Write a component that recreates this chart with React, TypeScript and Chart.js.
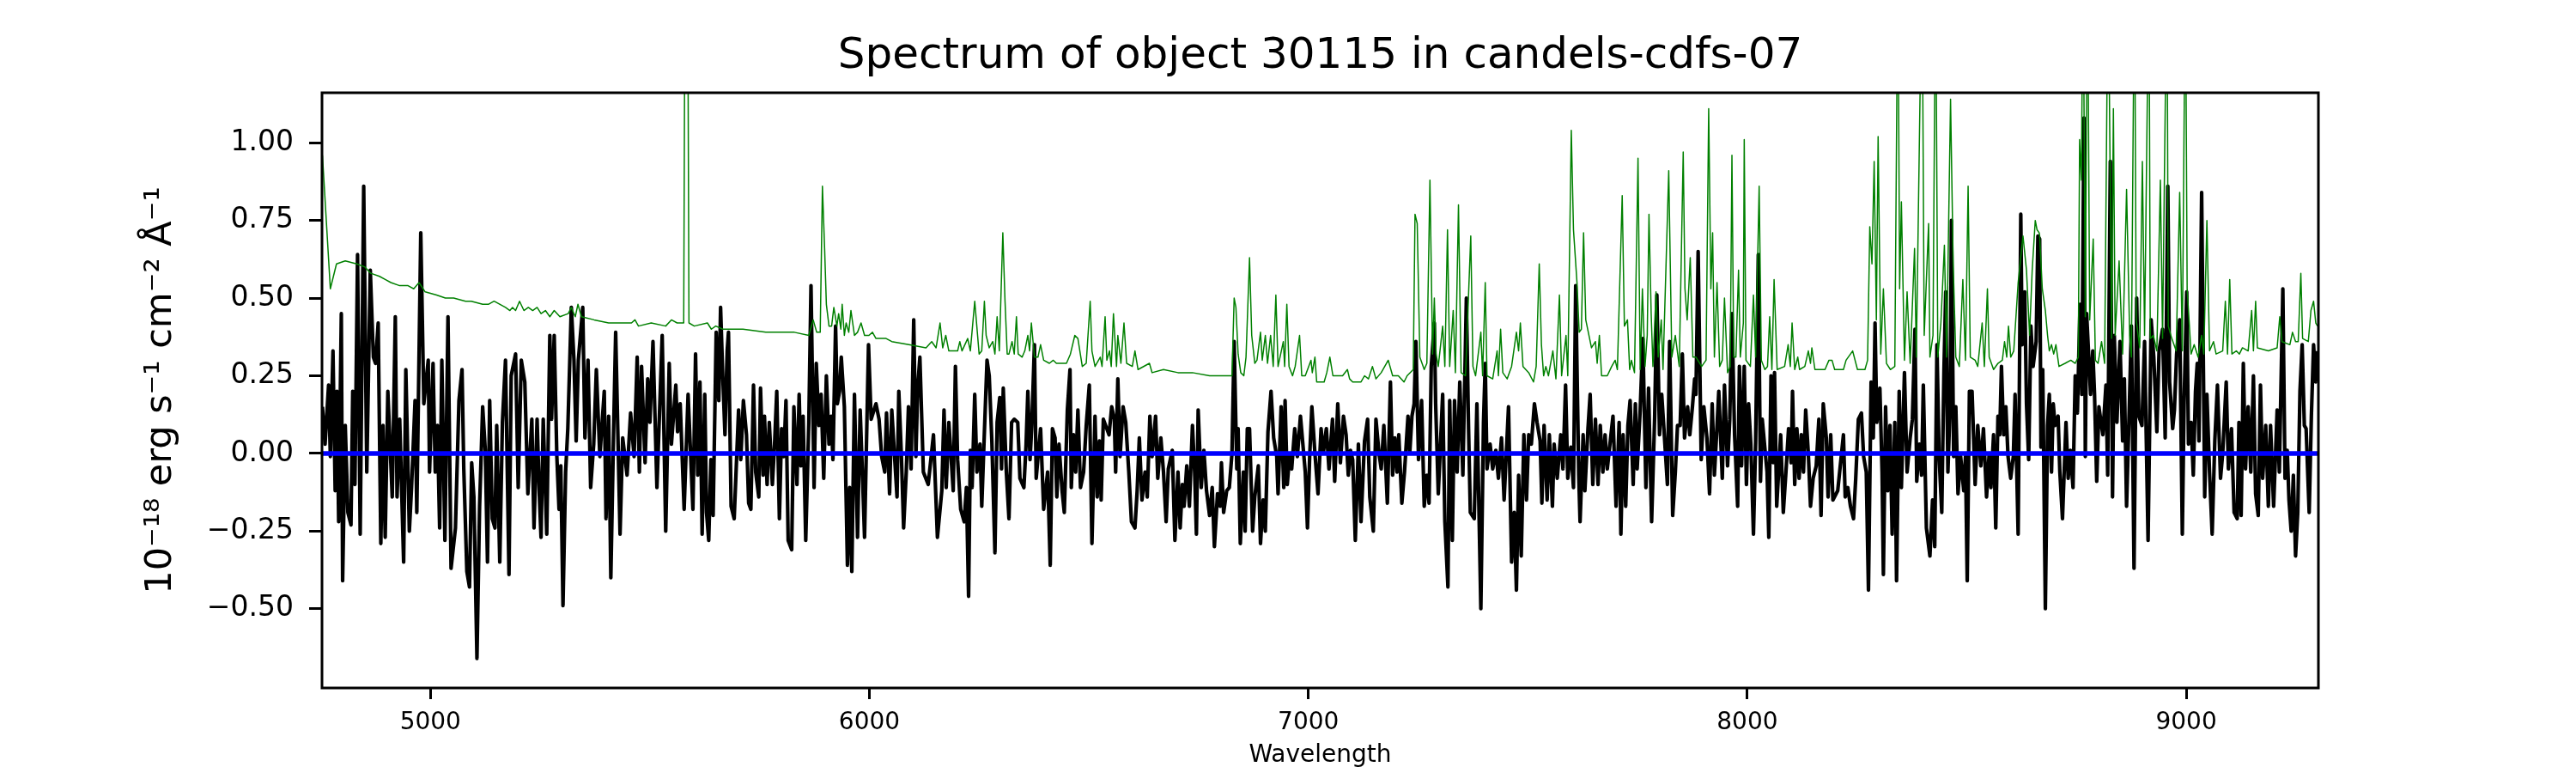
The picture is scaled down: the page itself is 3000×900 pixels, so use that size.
import { useEffect, useRef } from "react"
import { Chart, registerables } from "chart.js"

Chart.register(...registerables)

Chart.defaults.font.family = "'DejaVu Sans'"
Chart.defaults.color = "#000000"

const titleText = "Spectrum of object 30115 in candels-cdfs-07"
const xLabel = "Wavelength"
const yLabel = "10⁻¹⁸ erg s⁻¹ cm⁻² Å⁻¹"

const xTicks = [5000, 6000, 7000, 8000, 9000]
const yTicks = [-0.5, -0.25, 0, 0.25, 0.5, 0.75, 1.0]
const xMin = 4753
const xMax = 9301
const yMin = -0.755
const yMax = 1.161

// spectrum (black)
const fluxWave = [
  4754, 4760, 4768, 4772, 4778, 4783, 4787, 4791, 4797, 4800,
  4806, 4812, 4819, 4823, 4828, 4834, 4840, 4848, 4855, 4863,
  4870, 4875, 4881, 4887, 4892, 4897, 4903, 4913, 4920, 4924,
  4930, 4939, 4944, 4952, 4957, 4965, 4969, 4978, 4985, 4995,
  4998, 5006, 5011, 5016, 5021, 5026, 5033, 5040, 5047, 5057,
  5065, 5072, 5076, 5083, 5089, 5094, 5099, 5106, 5112, 5119,
  5125, 5130, 5135, 5141, 5147, 5151, 5158, 5164, 5171, 5179,
  5184, 5194, 5200, 5207, 5215, 5222, 5231, 5236, 5243, 5248,
  5252, 5257, 5265, 5272, 5276, 5282, 5288, 5293, 5297, 5302,
  5308, 5313, 5321, 5327, 5332, 5337, 5347, 5352, 5359, 5365,
  5372, 5378, 5386, 5396, 5400, 5406, 5411, 5417, 5422, 5432,
  5438, 5448, 5456, 5464, 5471, 5476, 5481, 5489, 5495, 5500,
  5507, 5516, 5528,
  5536, 5544, 5549, 5559, 5563, 5569, 5578, 5587, 5598, 5604,
  5609, 5614, 5619, 5625, 5629, 5634, 5639, 5644, 5651, 5657,
  5661, 5666, 5671, 5676, 5679, 5685, 5692, 5696, 5702, 5707,
  5713, 5720, 5725, 5730, 5736, 5741, 5748, 5752, 5758, 5761,
  5767, 5772, 5779, 5784, 5789, 5795, 5800, 5805, 5810, 5815,
  5823, 5828, 5835, 5840, 5844, 5849, 5855, 5862, 5867, 5874,
  5879, 5885, 5890, 5896, 5902, 5908, 5913, 5917, 5923, 5927,
  5932, 5936, 5943, 5950, 5955, 5960, 5966, 5973, 5979, 5984,
  5989, 5998, 6004, 6015, 6022, 6028, 6035, 6039, 6046, 6051,
  6063, 6067, 6073, 6078, 6084, 6089, 6095, 6101, 6106, 6110,
  6115, 6123, 6134, 6146, 6155, 6165, 6170, 6175, 6181, 6191,
  6196, 6201, 6208, 6216, 6221, 6226, 6230, 6234, 6240, 6245,
  6252, 6256, 6261, 6268, 6273, 6279, 6286, 6291, 6297, 6301,
  6305, 6312,
  6318, 6324, 6330, 6338, 6343, 6352, 6357, 6361, 6366, 6370,
  6376, 6380, 6390, 6397, 6406, 6412, 6417, 6423, 6427, 6432,
  6439, 6444, 6451, 6457, 6460, 6465, 6470, 6475, 6481, 6488,
  6494, 6501, 6507, 6514, 6519, 6524, 6528, 6533, 6546, 6552,
  6558, 6561, 6566, 6571, 6578, 6584, 6591, 6597, 6605, 6610,
  6615, 6621, 6628, 6633, 6639, 6644, 6652, 6657, 6664, 6670,
  6676, 6681, 6690, 6696, 6703, 6708, 6713, 6717, 6723, 6729,
  6736, 6741, 6745, 6749, 6756, 6762, 6768, 6775, 6781, 6786,
  6793, 6799, 6802, 6807, 6814, 6820, 6826, 6831, 6837, 6840,
  6845, 6852, 6856, 6861, 6866, 6873, 6878, 6886, 6891, 6897,
  6902, 6908, 6915, 6921, 6928, 6931, 6938, 6944, 6947, 6952,
  6957, 6962, 6969, 6975, 6982, 6993, 6998, 7003, 7008, 7015,
  7022, 7029, 7034, 7041, 7047, 7055, 7060, 7067, 7073, 7080,
  7086, 7091, 7096,
  7101, 7107, 7114, 7120, 7128, 7135, 7140, 7148, 7154, 7161,
  7166, 7172, 7180, 7187, 7192, 7197, 7202, 7206, 7213, 7219,
  7227, 7231, 7236, 7241, 7245, 7251, 7258, 7264, 7270, 7275,
  7280, 7287, 7290, 7296, 7306, 7311, 7318, 7322, 7328, 7333,
  7339, 7345, 7352, 7360, 7365, 7369, 7378, 7384, 7393, 7399,
  7403, 7407, 7414, 7420, 7427, 7433, 7440, 7446, 7456, 7463,
  7469, 7474, 7479, 7485, 7491, 7497, 7502, 7508, 7515, 7521,
  7528, 7532, 7537, 7544, 7549, 7556, 7560, 7567, 7575, 7580,
  7586, 7591, 7598, 7604, 7609, 7616, 7619, 7626, 7630, 7637,
  7642, 7648, 7654, 7660, 7665, 7671, 7676, 7681, 7694, 7701,
  7708, 7712, 7717, 7723, 7728, 7733, 7740, 7745, 7749, 7756,
  7762, 7769, 7775, 7782, 7789, 7794, 7800, 7805, 7810, 7818,
  7823, 7830, 7836, 7841, 7847, 7852, 7857, 7864, 7869, 7875,
  7880,
  7883, 7888, 7895, 7901, 7908, 7914, 7920, 7925, 7930, 7935,
  7943, 7948, 7955, 7960, 7965, 7971, 7978, 7982, 7987, 7993,
  7998, 8003, 8008, 8014, 8019, 8025, 8030, 8034, 8045, 8049,
  8054, 8059, 8062, 8067, 8076, 8082, 8088, 8094, 8100, 8103,
  8108, 8113, 8118, 8123, 8128, 8133, 8139, 8144, 8150, 8157,
  8163, 8168, 8173, 8180, 8184, 8190, 8195, 8206, 8219, 8223,
  8229, 8235, 8242, 8247, 8253, 8260, 8265, 8271, 8276, 8282,
  8287, 8291, 8295, 8302, 8307, 8310, 8315, 8320, 8325, 8330,
  8336, 8340, 8346, 8351, 8358, 8364, 8371, 8376, 8382, 8386,
  8392, 8397, 8401, 8408, 8416, 8422, 8427, 8432, 8437, 8443,
  8448, 8452, 8457, 8462, 8465, 8470, 8475, 8480, 8486, 8493,
  8497, 8501, 8506, 8512, 8519, 8525, 8532, 8538, 8545, 8551,
  8555, 8561, 8566, 8571, 8575, 8579, 8584, 8589, 8594, 8600,
  8606, 8610, 8617, 8623, 8626, 8632, 8636, 8641, 8646, 8651,
  8658, 8662,
  8666, 8669, 8673, 8679, 8684, 8688, 8693, 8697, 8701, 8708,
  8712, 8718, 8726, 8731, 8736, 8742, 8747, 8752, 8758, 8762,
  8767, 8770, 8773, 8782, 8787, 8791, 8796, 8801, 8810, 8817,
  8821, 8827, 8832, 8836, 8842, 8849, 8855, 8859, 8864, 8871,
  8875, 8881, 8887, 8892, 8899, 8905, 8913, 8920, 8926, 8933,
  8938, 8946, 8952, 8958, 8962, 8969, 8973, 8978, 8985, 8991,
  8995, 9001, 9005, 9011, 9016, 9021, 9025, 9029, 9035, 9042,
  9047, 9053, 9059, 9065, 9071, 9078, 9083, 9091, 9096, 9103,
  9109, 9116, 9120, 9125, 9130, 9135, 9141, 9147, 9153, 9158,
  9164, 9169, 9174, 9181, 9187, 9192, 9199, 9207, 9212, 9220,
  9225, 9230, 9234, 9239, 9244, 9249, 9254, 9259, 9264, 9269,
  9273, 9280, 9285, 9290, 9295, 9298,
]

const flux = [
  0.15, 0.03, 0.22, -0.01, 0.33, -0.12, 0.2, -0.22, 0.45, -0.41,
  0.09, -0.19, -0.23, 0.2, -0.1, 0.64, -0.26, 0.86, -0.06, 0.59,
  0.31, 0.29, 0.42, -0.29, 0.09, -0.27, 0.2, -0.14, 0.44, -0.14,
  0.11, -0.35, 0.27, -0.25, -0.11, 0.17, -0.19, 0.71, 0.16, 0.3,
  -0.06, 0.29, -0.06, 0.09, -0.24, 0.3, -0.28, 0.44, -0.37, -0.24,
  0.17, 0.27, -0.05, -0.38, -0.43, -0.03, -0.14, -0.66, -0.17, 0.15,
  0.01, -0.35, 0.17, -0.21, -0.24, 0.09, -0.35, 0.1, 0.3, -0.39,
  0.25, 0.32, -0.11, 0.3, 0.23, -0.13, 0.11, -0.24, 0.11, -0.13,
  -0.27, 0.11, -0.26, 0.38, 0.11, 0.38, -0.01, -0.18, -0.04, -0.49,
  -0.06, 0.08, 0.47, 0.3, 0.04, 0.3, 0.47, 0.05, 0.3, -0.11,
  0.03, 0.27, -0.01, 0.2, -0.21, 0.12, -0.4, 0.05, 0.39, -0.26,
  0.05, -0.07, 0.13, -0.01, 0.31, -0.06, 0.28, -0.03, 0.24, 0.1,
  0.36, -0.11, 0.38,
  -0.25, 0.29, 0.03, 0.22, 0.07, 0.16, -0.18, 0.19, -0.18, 0.32,
  -0.07, 0.23, -0.26, 0.19, -0.19, -0.28, -0.02, -0.2, 0.39, 0.17,
  0.47, 0.25, 0.06, 0.33, 0.39, -0.17, -0.21, -0.07, 0.14, -0.02,
  0.17, 0.06, -0.16, -0.18, 0.22, -0.06, -0.14, 0.21, -0.07, 0.12,
  -0.1, 0.1, -0.1, 0.03, 0.2, -0.21, 0.08, -0.01, 0.17, -0.28,
  -0.31, 0.15, -0.1, 0.19, -0.04, 0.12, -0.28, 0.1, 0.54, -0.11,
  0.29, 0.09, 0.19, -0.08, 0.25, 0.03, 0.12, -0.02, 0.41, 0.16,
  0.2, 0.31, 0.15, -0.36, -0.11, -0.38, 0.19, -0.27, 0.14, -0.06,
  -0.27, 0.35, 0.11, 0.16, 0.11, -0.01, -0.06, 0.13, -0.13, 0.14,
  -0.14, 0.2, -0.01, -0.24, -0.06, 0.15, -0.05, 0.43, -0.01, 0.21,
  0.31, -0.06, -0.1, 0.06, -0.27, -0.12, 0.14, -0.11, 0.1, -0.12,
  0.28, -0.02, -0.18, -0.22, -0.11, -0.46, 0.01, -0.11, 0.19, -0.06,
  0.03, -0.17, 0.03, 0.3, 0.25, 0.04, -0.32, 0.1, 0.18, -0.05,
  0.21, -0.06,
  -0.21, 0.1, 0.11, 0.1, -0.08, -0.11, 0.03, 0.2, -0.02, 0.09,
  0.35, -0.08, 0.08, -0.18, -0.06, -0.36, 0.08, 0.05, -0.14, 0.03,
  -0.12, -0.19, 0.14, 0.27, -0.11, 0.06, -0.06, 0.14, -0.11, -0.06,
  0.09, 0.22, -0.29, 0.12, -0.14, 0.04, -0.15, 0.11, 0.06, 0.15,
  0.11, -0.06, 0.24, -0.01, 0.15, 0.1, -0.06, -0.22, -0.24, -0.12,
  0.05, -0.15, -0.06, -0.14, 0.12, -0.01, 0.12, -0.08, 0.05, -0.06,
  -0.22, -0.05, 0.01, -0.28, -0.06, -0.24, -0.1, -0.17, -0.04, -0.17,
  0.09, -0.06, -0.26, 0.14, -0.11, 0.01, -0.12, -0.2, -0.11, -0.3,
  -0.13, -0.17, -0.03, -0.19, -0.12, -0.11, 0.0, 0.36, -0.05, 0.08,
  -0.29, -0.06, -0.25, 0.08, 0.08, -0.25, -0.14, -0.04, -0.29, -0.15,
  -0.25, 0.07, 0.2, 0.05, -0.01, -0.13, 0.15, -0.11, 0.17, -0.1,
  -0.01, -0.05, 0.08, -0.01, 0.12, -0.06, -0.24, -0.01, 0.15, 0.0,
  -0.13, 0.08, 0.0, 0.08, -0.05, 0.11, -0.09, 0.16, -0.03, 0.12,
  0.06, -0.07, 0.01,
  -0.02, -0.28, 0.03, -0.22, 0.04, 0.11, -0.14, -0.25, 0.11, 0.0,
  -0.05, 0.09, -0.16, 0.23, -0.07, 0.05, -0.06, 0.06, -0.16, -0.06,
  0.12, 0.0, 0.12, 0.16, 0.36, -0.02, 0.17, -0.17, -0.07, -0.16,
  0.28, 0.42, 0.16, -0.13, 0.19, -0.22, -0.43, 0.17, -0.28, 0.17,
  -0.06, 0.23, -0.07, 0.5, 0.08, -0.19, -0.21, 0.16, -0.5, 0.1,
  0.29, -0.05, 0.03, -0.05, 0.01, -0.08, 0.05, -0.15, 0.15, -0.35,
  -0.19, -0.44, -0.07, -0.33, 0.06, -0.15, 0.06, 0.03, 0.16, 0.1,
  0.04, -0.16, 0.09, -0.15, 0.06, -0.17, 0.03, -0.08, 0.06, -0.05,
  0.22, -0.08, 0.02, -0.11, 0.54, -0.07, -0.22, 0.06, -0.12, 0.08,
  0.19, -0.1, 0.11, -0.1, 0.09, -0.06, 0.06, -0.05, 0.12, -0.17,
  0.1, -0.26, 0.06, -0.17, 0.09, 0.17, -0.1, 0.16, -0.05, 0.14,
  0.37, -0.11, 0.21, -0.22, 0.12, 0.51, 0.06, 0.19, 0.08, -0.1,
  0.36, -0.2, -0.06, 0.09, 0.09, 0.32, 0.05, 0.15, 0.06, 0.15,
  0.24,
  0.19, 0.65, -0.02, 0.15, 0.05, -0.13, 0.16, -0.07, 0.06, 0.2,
  -0.08, 0.22, -0.04, 0.11, 0.45, 0.06, -0.17, 0.28, -0.04, 0.28,
  -0.1, 0.16, 0.03, -0.26, 0.04, 0.64, -0.09, 0.11, -0.06, -0.27,
  0.25, -0.03, 0.26, -0.17, 0.06, -0.19, -0.06, 0.08, -0.03, 0.2,
  -0.1, 0.08, -0.08, 0.06, -0.06, 0.14, 0.0, -0.17, -0.08, -0.04,
  0.11, -0.2, 0.16, 0.05, -0.14, 0.06, -0.15, -0.12, 0.06, -0.14,
  -0.11, -0.17, -0.21, -0.08, 0.11, 0.13, -0.01, -0.06, -0.44, 0.23,
  0.05, 0.42, 0.1, 0.21, -0.06, -0.39, 0.15, -0.12, 0.09, -0.26,
  0.1, -0.41, 0.2, -0.11, 0.26, -0.06, 0.05, 0.11, 0.4, -0.09,
  0.03, -0.07, 0.22, -0.24, -0.33, -0.15, -0.3, 0.35, -0.01, -0.19,
  0.27, 0.52, -0.06, 0.16, 0.75, -0.01, 0.15, -0.13, -0.01, -0.12,
  -0.01, -0.41, 0.2, 0.2, -0.1, 0.09, -0.04, 0.08, -0.14, 0.0,
  -0.11, 0.06, -0.24, 0.12, 0.06, 0.28, 0.06, 0.15, -0.01, -0.08,
  -0.01, 0.19, -0.26, 0.77, 0.35, 0.52, 0.16, -0.02, 0.41, 0.28,
  0.36, 0.7,
  0.69, 0.02, 0.27, -0.5, 0.09, 0.19, -0.06, 0.16, 0.09, 0.12,
  -0.06, -0.21, 0.1, -0.08, 0.01, -0.11, 0.25, 0.13, 0.48, 0.19,
  1.08, -0.01, 0.45, 0.19, 0.33, 0.19, -0.09, 0.15, 0.06, 0.22,
  -0.07, 0.94, -0.14, 0.38, 0.1, 0.36, 0.04, 0.24, -0.17, 0.19,
  0.41, -0.37, 0.5, 0.12, 0.09, 0.36, -0.28, 0.43, 0.31, 0.07,
  0.33, 0.4, 0.05, 0.86, 0.23, 0.08, 0.14, 0.32, 0.43, -0.26,
  0.16, 0.52, 0.03, 0.1, -0.07, 0.2, 0.29, 0.04, 0.84, -0.14,
  0.19, -0.06, -0.26, 0.04, 0.22, -0.08, 0.0, 0.23, -0.05, 0.08,
  -0.19, -0.21, 0.1, -0.2, 0.29, -0.05, 0.15, -0.06, 0.25, -0.13,
  -0.2, 0.22, -0.08, 0.09, -0.17, 0.09, -0.17, 0.14, -0.06, 0.53,
  -0.08, 0.01, -0.15, -0.25, -0.07, -0.33, -0.19, 0.2, 0.35, 0.09,
  0.08, -0.19, 0.12, 0.35, 0.23, 0.33,
]

// noise / sky spectrum (green)
const noiseWave = [
  4754, 4772, 4786, 4806, 4832, 4851, 4864, 4884, 4897, 4910,
  4930, 4949, 4962, 4974, 4988, 5014, 5034, 5053, 5080, 5093,
  5119, 5132, 5145, 5171, 5181, 5187, 5194, 5203, 5213, 5223,
  5233, 5243, 5252, 5262, 5272, 5282, 5295, 5314, 5321, 5330,
  5336, 5344, 5373, 5406, 5432, 5443, 5458, 5466, 5474, 5503,
  5536,
  5549, 5562, 5572, 5577, 5580, 5586, 5589, 5601, 5631, 5640,
  5650, 5666, 5712, 5764, 5829, 5862, 5872, 5880, 5888, 5893,
  5898, 5902, 5908, 5914, 5919, 5926, 5930, 5935, 5938, 5943,
  5947, 5953, 5958, 5966, 5973, 5981, 5989, 5999, 6007, 6015,
  6038, 6051, 6090, 6129, 6142, 6152, 6161, 6167, 6174, 6181,
  6201, 6206, 6211, 6224, 6230, 6240, 6250, 6256, 6262, 6266,
  6273, 6281, 6286, 6291, 6296, 6304, 6309, 6314,
  6318, 6325, 6330, 6335, 6339, 6348, 6354, 6361, 6365, 6369,
  6376, 6384, 6390, 6397, 6410, 6419, 6426, 6449, 6458, 6468,
  6475, 6485, 6494, 6503, 6507, 6514, 6526, 6530, 6537, 6541,
  6547, 6551, 6556, 6563, 6566, 6573, 6580, 6586, 6599, 6605,
  6612, 6638, 6644, 6670, 6703, 6736, 6775, 6826, 6831, 6835,
  6840, 6846, 6853, 6858, 6866, 6871, 6878, 6883, 6891, 6895,
  6902, 6907, 6914, 6920, 6926, 6931, 6943, 6946, 6951, 6956,
  6964, 6970, 6980, 6985, 6993, 7006, 7009, 7015, 7019, 7036,
  7042, 7049, 7056, 7078, 7089, 7094, 7101,
  7120, 7128, 7137, 7146, 7154, 7166, 7182, 7192, 7205, 7218,
  7225, 7239, 7243, 7248, 7254, 7264, 7270, 7277, 7283, 7287,
  7291, 7296, 7306, 7311, 7317, 7322, 7330, 7335, 7342, 7348,
  7358, 7370, 7375, 7381, 7393, 7397, 7403, 7407, 7420, 7430,
  7433, 7438, 7443, 7453, 7463, 7474, 7479, 7483, 7489, 7502,
  7513, 7519, 7526, 7531, 7536, 7541, 7547, 7557, 7564, 7572,
  7577, 7587, 7591, 7599, 7604, 7612, 7617, 7622, 7627, 7632,
  7645, 7654, 7658, 7663, 7668, 7681, 7691, 7699, 7704, 7715,
  7720, 7727, 7732, 7736, 7743, 7751, 7756, 7761, 7767, 7772,
  7776, 7781, 7785, 7792, 7797, 7804, 7808, 7821, 7828, 7836,
  7845, 7854, 7858, 7863, 7870, 7876,
  7883, 7896, 7906, 7912, 7917, 7921, 7925, 7931, 7937, 7943,
  7948, 7955, 7961, 7965, 7969, 7974, 7980, 7984, 7991, 7993,
  7997, 8007, 8014, 8019, 8027, 8032, 8040, 8046, 8051, 8056,
  8061, 8068, 8085, 8093, 8098, 8102, 8108, 8115, 8119, 8131,
  8139, 8144, 8147, 8154, 8167, 8177, 8186, 8193, 8199, 8219,
  8225, 8240, 8251, 8268, 8274, 8279, 8284, 8289, 8294, 8298,
  8304, 8310, 8317, 8326, 8336, 8343, 8347, 8351, 8358, 8364,
  8371, 8381, 8385, 8398, 8403, 8413, 8416, 8423, 8429, 8434,
  8441, 8449, 8454, 8463, 8469, 8475, 8483, 8491, 8497, 8503,
  8508, 8519, 8525, 8535, 8540, 8547, 8551, 8561, 8571, 8581,
  8586, 8591, 8595, 8600, 8607, 8617, 8628, 8636, 8643, 8649,
  8656, 8660, 8665,
  8666, 8672, 8679, 8684, 8688, 8693, 8698, 8703, 8710, 8724,
  8737, 8747, 8754, 8757, 8761, 8765, 8770, 8775, 8780, 8788,
  8793, 8799, 8807, 8814, 8822, 8830, 8834, 8838, 8847, 8855,
  8864, 8871, 8875, 8882, 8886, 8894, 8900, 8905, 8915, 8918,
  8925, 8933, 8941, 8946, 8956, 8959, 8967, 8977, 8985, 8991,
  8998, 9002, 9011, 9018, 9027, 9035, 9040, 9047, 9053, 9062,
  9068, 9083, 9089, 9094, 9099, 9104, 9114, 9121, 9128, 9141,
  9149, 9153, 9158, 9162, 9187, 9207, 9213, 9218, 9236, 9242,
  9249, 9255, 9261, 9265, 9278, 9284, 9290, 9295, 9299,
]

const noise = [
  0.96, 0.53, 0.61, 0.62, 0.61, 0.6, 0.58, 0.57, 0.56, 0.55,
  0.54, 0.54, 0.53, 0.55, 0.52, 0.51, 0.5, 0.5, 0.49, 0.49,
  0.48, 0.48, 0.49, 0.47, 0.46, 0.47, 0.46, 0.49, 0.46, 0.47,
  0.46, 0.47, 0.45, 0.46, 0.44, 0.46, 0.44, 0.45, 0.47, 0.44,
  0.48, 0.44, 0.43, 0.42, 0.42, 0.42, 0.42, 0.43, 0.41, 0.42,
  0.41,
  0.43, 0.42, 0.42, 0.42, 1.6, 1.6, 0.42, 0.41, 0.42, 0.4,
  0.41, 0.4, 0.4, 0.39, 0.39, 0.38, 0.43, 0.39, 0.39, 0.86,
  0.66, 0.48, 0.41, 0.41, 0.47, 0.41, 0.45, 0.4, 0.48, 0.38,
  0.42, 0.39, 0.46, 0.38, 0.39, 0.42, 0.38, 0.38, 0.39, 0.37,
  0.37, 0.36, 0.35, 0.34, 0.36, 0.34, 0.42, 0.34, 0.38, 0.33,
  0.33, 0.36, 0.33, 0.37, 0.33, 0.49, 0.32, 0.33, 0.49, 0.38,
  0.34, 0.36, 0.32, 0.44, 0.33, 0.71, 0.49, 0.32,
  0.32, 0.36, 0.32, 0.44, 0.32, 0.31, 0.33, 0.38, 0.33, 0.42,
  0.31, 0.31, 0.35, 0.3, 0.29, 0.3, 0.29, 0.29, 0.32, 0.38,
  0.37, 0.28, 0.29, 0.49, 0.33, 0.28, 0.31, 0.28, 0.44, 0.3,
  0.33, 0.28, 0.45, 0.28, 0.38, 0.29, 0.42, 0.29, 0.28, 0.33,
  0.27, 0.29, 0.26, 0.27, 0.26, 0.26, 0.25, 0.25, 0.5, 0.47,
  0.32, 0.26, 0.25, 0.31, 0.63, 0.38, 0.29, 0.3, 0.39, 0.3,
  0.38, 0.29, 0.38, 0.28, 0.51, 0.28, 0.36, 0.28, 0.48, 0.28,
  0.25, 0.28, 0.38, 0.25, 0.25, 0.3, 0.26, 0.31, 0.23, 0.23,
  0.26, 0.31, 0.25, 0.25, 0.27, 0.24, 0.23,
  0.23, 0.25, 0.24, 0.28, 0.24, 0.26, 0.3, 0.25, 0.25, 0.23,
  0.25, 0.27, 0.77, 0.74, 0.31, 0.27, 0.29, 0.88, 0.32, 0.5,
  0.32, 0.28, 0.41, 0.28, 0.72, 0.28, 0.46, 0.26, 0.8, 0.26,
  0.25, 0.7, 0.28, 0.25, 0.39, 0.25, 0.55, 0.25, 0.24, 0.33,
  0.25, 0.4, 0.26, 0.24, 0.28, 0.39, 0.33, 0.42, 0.28, 0.26,
  0.23, 0.28, 0.61, 0.35, 0.25, 0.28, 0.25, 0.33, 0.24, 0.51,
  0.25, 0.38, 0.25, 1.04, 0.72, 0.55, 0.39, 0.4, 0.71, 0.43,
  0.34, 0.36, 0.29, 0.38, 0.25, 0.25, 0.28, 0.3, 0.27, 0.83,
  0.41, 0.43, 0.27, 0.3, 0.26, 0.95, 0.27, 0.53, 0.28, 0.38,
  0.77, 0.45, 0.28, 0.52, 0.31, 0.43, 0.27, 0.91, 0.31, 0.38,
  0.28, 0.97, 0.53, 0.43, 0.63, 0.31,
  0.31, 0.28, 0.3, 1.11, 0.53, 0.71, 0.31, 0.55, 0.28, 0.3,
  0.5, 0.26, 0.28, 0.96, 0.31, 0.31, 0.59, 0.31, 0.42, 1.01,
  0.3, 0.28, 0.51, 0.31, 0.86, 0.3, 0.27, 0.28, 0.44, 0.27,
  0.56, 0.27, 0.28, 0.35, 0.28, 0.42, 0.27, 0.31, 0.27, 0.28,
  0.33, 0.29, 0.34, 0.27, 0.27, 0.27, 0.3, 0.3, 0.27, 0.27,
  0.3, 0.33, 0.27, 0.27, 0.3, 0.73, 0.61, 0.94, 0.43, 1.02,
  0.32, 0.53, 0.29, 0.27, 0.28, 1.6, 0.53, 0.81, 0.3, 0.52,
  0.29, 0.66, 0.31, 1.6, 0.38, 0.74, 0.31, 0.38, 1.6, 0.31,
  0.42, 0.67, 0.31, 1.14, 0.61, 0.31, 0.28, 0.56, 0.3, 0.86,
  0.31, 0.3, 0.28, 0.42, 0.28, 0.53, 0.31, 0.27, 0.29, 0.3,
  0.36, 0.31, 0.41, 0.31, 0.33, 0.55, 0.7, 0.59, 0.38, 0.59,
  0.75, 0.72, 0.71,
  0.7, 0.53, 0.46, 0.38, 0.33, 0.35, 0.32, 0.35, 0.28, 0.29,
  0.3, 0.29, 0.31, 1.01, 0.88, 1.6, 0.44, 1.6, 0.43, 0.69,
  0.3, 0.29, 0.36, 0.29, 1.6, 0.37, 1.11, 0.38, 0.62, 0.32,
  0.85, 0.38, 0.31, 1.6, 0.43, 0.34, 0.94, 0.38, 1.6, 0.37,
  0.38, 0.33, 0.88, 0.37, 1.6, 0.41, 0.37, 0.33, 0.84, 0.33,
  1.6, 0.53, 0.32, 0.35, 0.31, 0.38, 0.32, 0.75, 0.33, 0.36,
  0.32, 0.33, 0.49, 0.32, 0.56, 0.32, 0.33, 0.32, 0.34, 0.33,
  0.46, 0.33, 0.49, 0.34, 0.33, 0.34, 0.44, 0.36, 0.35, 0.39,
  0.36, 0.36, 0.58, 0.37, 0.36, 0.46, 0.49, 0.42, 0.41,
]

// zero level (blue)
const zeroWave = [4753, 9301]
const zeroFlux = [0, 0]

const toPoints = (xs: number[], ys: number[]) => {
  const n = Math.min(xs.length, ys.length)
  return xs.slice(0, n).map((x, i) => ({ x, y: ys[i] }))
}

const formatY = (v: number) => (v < 0 ? "\u2212" + Math.abs(v).toFixed(2) : v.toFixed(2))

// matplotlib-style box around the axes
const framePlugin = {
  id: "frame",
  afterDatasetsDraw(chart: Chart) {
    const { ctx, chartArea } = chart
    ctx.save()
    ctx.strokeStyle = "#000000"
    ctx.lineWidth = 3
    ctx.strokeRect(chartArea.left, chartArea.top, chartArea.right - chartArea.left, chartArea.bottom - chartArea.top)
    ctx.restore()
  },
}

export default function App() {
  const chartRef = useRef<HTMLCanvasElement>(null)
  const chartInstance = useRef<Chart | null>(null)

  useEffect(() => {
    document.body.style.margin = "0"
    if (!chartRef.current) return
    if (chartInstance.current) chartInstance.current.destroy()

    chartInstance.current = new Chart(chartRef.current, {
      type: "line",
      data: {
        datasets: [
          {
            label: "zero",
            data: toPoints(zeroWave, zeroFlux),
            borderColor: "#0000ff",
            borderWidth: 5.5,
            pointRadius: 0,
          },
          {
            label: "noise",
            data: toPoints(noiseWave, noise),
            borderColor: "#008000",
            borderWidth: 1.5,
            pointRadius: 0,
            borderJoinStyle: "round",
          },
          {
            label: "flux",
            data: toPoints(fluxWave, flux),
            borderColor: "#000000",
            borderWidth: 4.2,
            pointRadius: 0,
            borderJoinStyle: "round",
          },
        ],
      },
      options: {
        responsive: false,
        animation: false,
        devicePixelRatio: 1,
        layout: { padding: { left: 0, right: 300, top: 0, bottom: 0 } },
        plugins: {
          legend: { display: false },
          tooltip: { enabled: false },
          title: {
            display: true,
            fullSize: false,
            text: titleText,
            color: "#000000",
            font: { size: 50, weight: "normal" },
            padding: { top: 36, bottom: 12 },
          },
        },
        scales: {
          x: {
            type: "linear",
            min: xMin,
            max: xMax,
            afterBuildTicks: (scale) => {
              scale.ticks = xTicks.map((value) => ({ value }))
            },
            afterFit: (scale) => {
              scale.height = 99
            },
            ticks: {
              font: { size: 28 },
              color: "#000000",
              padding: 11,
              maxRotation: 0,
              autoSkip: false,
              callback: (value) => String(value),
            },
            grid: {
              drawOnChartArea: false,
              drawTicks: true,
              tickLength: 13,
              tickWidth: 3,
              tickColor: "#000000",
            },
            border: { display: false },
            title: {
              display: true,
              text: xLabel,
              color: "#000000",
              font: { size: 28 },
              padding: { top: 0, bottom: 3 },
            },
          },
          y: {
            type: "linear",
            min: yMin,
            max: yMax,
            afterBuildTicks: (scale) => {
              scale.ticks = yTicks.map((value) => ({ value }))
            },
            afterFit: (scale) => {
              scale.width = 375
            },
            ticks: {
              font: { size: 33 },
              color: "#000000",
              padding: 18,
              callback: (value) => formatY(Number(value)),
            },
            grid: {
              drawOnChartArea: false,
              drawTicks: true,
              tickLength: 15,
              tickWidth: 3,
              tickColor: "#000000",
            },
            border: { display: false },
            title: {
              display: true,
              text: yLabel,
              color: "#000000",
              font: { size: 43 },
              padding: { top: 162, bottom: 0 },
            },
          },
        },
      },
      plugins: [framePlugin],
    })

    return () => {
      if (chartInstance.current) {
        chartInstance.current.destroy()
        chartInstance.current = null
      }
    }
  }, [])

  return (
    <div style={{ width: 3000, height: 900, background: "#ffffff" }}>
      <canvas ref={chartRef} width={3000} height={900} style={{ display: "block" }}></canvas>
    </div>
  )
}
